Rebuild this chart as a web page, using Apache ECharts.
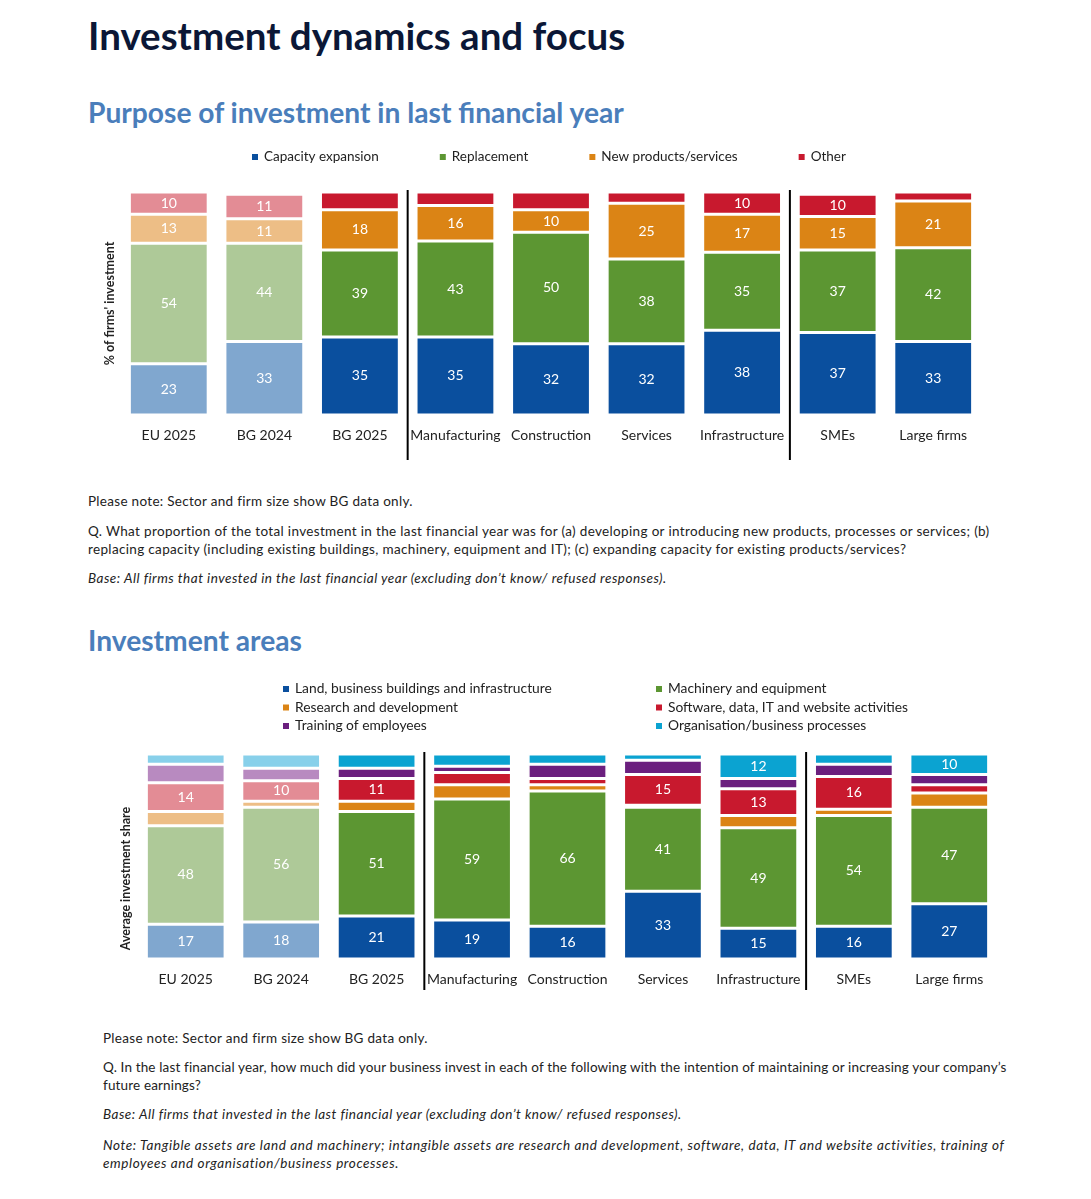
<!DOCTYPE html>
<html>
<head>
<meta charset="utf-8">
<script src="https://cdn.jsdelivr.net/npm/echarts@6/dist/echarts.min.js"></script>
<style>
  html, body { margin:0; padding:0; background:#fff; }
  body { width:1091px; height:1199px; position:relative; font-family: Lato, "Open Sans", sans-serif; color:#222; }
  .abs { position:absolute; white-space:nowrap; }
  h1 { margin:0; font-size:38.5px; font-weight:700; color:#0b1736; }
  h2 { margin:0; font-size:28.2px; font-weight:700; color:#4a7ebb; }
  .note { font-size:13.5px; line-height:18px; letter-spacing:0.3px; }
  .it { font-style:italic; letter-spacing:0.5px; }
  #c1, #c2 { position:absolute; left:0; width:1091px; height:330px; }
</style>
</head>
<body>
<div class="abs" style="left:88px; top:12px;"><h1>Investment dynamics and focus</h1></div>
<div class="abs" style="left:88px; top:95px;"><h2>Purpose of investment in last financial year</h2></div>
<div id="c1" style="top:140px;"></div>
<div class="abs note" style="left:88px; top:492px;">Please note: Sector and firm size show BG data only.</div>
<div class="abs note" style="left:88px; top:522px; letter-spacing:0.34px;">Q. What proportion of the total investment in the last financial year was for (a) developing or introducing new products, processes or services; (b)<br>replacing capacity (including existing buildings, machinery, equipment and IT); (c) expanding capacity for existing products/services?</div>
<div class="abs note it" style="left:88px; top:569px;">Base: All firms that invested in the last financial year (excluding don’t know/ refused responses).</div>

<div class="abs" style="left:88px; top:623px;"><h2>Investment areas</h2></div>
<div id="c2" style="top:675px;"></div>
<div class="abs note" style="left:103px; top:1029px;">Please note: Sector and firm size show BG data only.</div>
<div class="abs note" style="left:103px; top:1058px; letter-spacing:0.15px;">Q. In the last financial year, how much did your business invest in each of the following with the intention of maintaining or increasing your company’s<br>future earnings?</div>
<div class="abs note it" style="left:103px; top:1105px;">Base: All firms that invested in the last financial year (excluding don’t know/ refused responses).</div>
<div class="abs note it" style="left:103px; top:1136px; letter-spacing:0.6px;">Note: Tangible assets are land and machinery; intangible assets are research and development, software, data, IT and website activities, training of<br>employees and organisation/business processes.</div>

<script>
// ---------- DATA ----------
const categories = ['EU 2025','BG 2024','BG 2025','Manufacturing','Construction','Services','Infrastructure','SMEs','Large firms'];

// Purpose of investment
const capacityExpansion = [23, 33, 35, 35, 32, 32, 38, 37, 33];
const replacement       = [54, 44, 39, 43, 50, 38, 35, 37, 42];
const newProducts       = [13, 11, 18, 16, 10, 25, 17, 15, 21];
const otherPurpose      = [10, 11,  8,  6,  8,  5, 10, 10,  4];

// Investment areas
const landBuildings = [17, 18, 21, 19, 16, 33, 15, 16, 27];
const machinery     = [48, 56, 51, 59, 66, 41, 49, 54, 47];
const researchDev   = [ 7,  3,  5,  7,  3,  1,  6,  3,  7];
const software      = [14, 10, 11,  6,  3, 15, 13, 16,  4];
const training      = [ 9,  6,  5,  3,  7,  7,  5,  6,  5];
const organisation  = [ 5,  7,  7,  6,  5,  3, 12,  5, 10];

// ---------- STYLE ----------
const FONT = 'Lato, "Open Sans", sans-serif';
const colors = {
  blue:   ['#0a4f9e', '#80a7cf'],
  green:  ['#5c9632', '#aec998'],
  orange: ['#db8415', '#edbe86'],
  red:    ['#c8192e', '#e38c95'],
  purple: ['#6b1f7e', '#b88ac0'],
  cyan:   ['#0ba3d1', '#88d0ea']
};

function makeSeries(name, values, pair) {
  return {
    name: name,
    type: 'bar',
    stack: 'total',
    barWidth: '82.5%',
    itemStyle: { color: pair[0], borderColor: '#fff', borderWidth: 1.5 },
    label: {
      show: true, position: 'inside', color: '#fff', fontSize: 14, fontFamily: FONT,
      formatter: p => (p.value >= 10 ? String(p.value) : '')
    },
    emphasis: { disabled: true },
    data: values.map((v, i) => ({ value: v, itemStyle: { color: i < 2 ? pair[1] : pair[0] } }))
  };
}

function baseAxes(gridTop, gridHeight, gridLeft, gridWidth, yName, nameGap, namePadding) {
  return {
    animation: false,
    grid: { top: gridTop, height: gridHeight, left: gridLeft, width: gridWidth },
    xAxis: {
      type: 'category', data: categories,
      axisLine: { show: false }, axisTick: { show: false },
      axisLabel: { color: '#222', fontSize: 14, fontFamily: FONT, margin: 13, interval: 0 }
    },
    yAxis: {
      type: 'value', min: 0, max: 100,
      name: yName, nameLocation: 'middle', nameGap: nameGap,
      nameTextStyle: { fontSize: 12.5, fontWeight: 'bold', color: '#222', fontFamily: FONT, padding: namePadding },
      axisLine: { show: false }, axisTick: { show: false }, axisLabel: { show: false }, splitLine: { show: false }
    }
  };
}

function addSeparators(chart, pairs, y1, y2) {
  const g = pairs.map(([a, b]) => {
    const xa = chart.convertToPixel({ xAxisIndex: 0 }, a);
    const xb = chart.convertToPixel({ xAxisIndex: 0 }, b);
    const x = (xa + xb) / 2;
    return { type: 'line', shape: { x1: x, y1: y1, x2: x, y2: y2 }, style: { stroke: '#000', lineWidth: 2 } };
  });
  chart.setOption({ graphic: g });
}

// ---------- CHART 1 ----------
const c1 = echarts.init(document.getElementById('c1'));
const opt1 = baseAxes(52, 223, 121, 860, "% of firms' investment", 5, [0, 0, 0, 0]);
opt1.legend = {
  left: 250, top: 10, padding: 0, icon: 'rect', itemWidth: 8, itemHeight: 8, itemGap: 59,
  textStyle: { fontSize: 13.5, color: '#222', fontFamily: FONT },
  data: ['Capacity expansion', 'Replacement', 'New products/services', 'Other']
};
opt1.series = [
  makeSeries('Capacity expansion', capacityExpansion, colors.blue),
  makeSeries('Replacement', replacement, colors.green),
  makeSeries('New products/services', newProducts, colors.orange),
  makeSeries('Other', otherPurpose, colors.red)
];
c1.setOption(opt1);
addSeparators(c1, [['BG 2025', 'Manufacturing'], ['Infrastructure', 'SMEs']], 50, 320);

// ---------- CHART 2 ----------
const c2 = echarts.init(document.getElementById('c2'));
const opt2 = baseAxes(79, 205, 138, 859, 'Average investment share', 5.5, [0, 44, 0, 0]);
const legText = { fontSize: 13.8, color: '#222', fontFamily: FONT, lineHeight: 14 };
opt2.legend = [
  { left: 281, top: 7, padding: 0, orient: 'vertical', icon: 'rect', itemWidth: 8, itemHeight: 8, itemGap: 4.5, textStyle: legText,
    data: ['Land, business buildings and infrastructure', 'Research and development', 'Training of employees'] },
  { left: 654, top: 7, padding: 0, orient: 'vertical', icon: 'rect', itemWidth: 8, itemHeight: 8, itemGap: 4.5, textStyle: legText,
    data: ['Machinery and equipment', 'Software, data, IT and website activities', 'Organisation/business processes'] }
];
opt2.series = [
  makeSeries('Land, business buildings and infrastructure', landBuildings, colors.blue),
  makeSeries('Machinery and equipment', machinery, colors.green),
  makeSeries('Research and development', researchDev, colors.orange),
  makeSeries('Software, data, IT and website activities', software, colors.red),
  makeSeries('Training of employees', training, colors.purple),
  makeSeries('Organisation/business processes', organisation, colors.cyan)
];
c2.setOption(opt2);
addSeparators(c2, [['BG 2025', 'Manufacturing'], ['Infrastructure', 'SMEs']], 77, 315);
</script>
</body>
</html>
